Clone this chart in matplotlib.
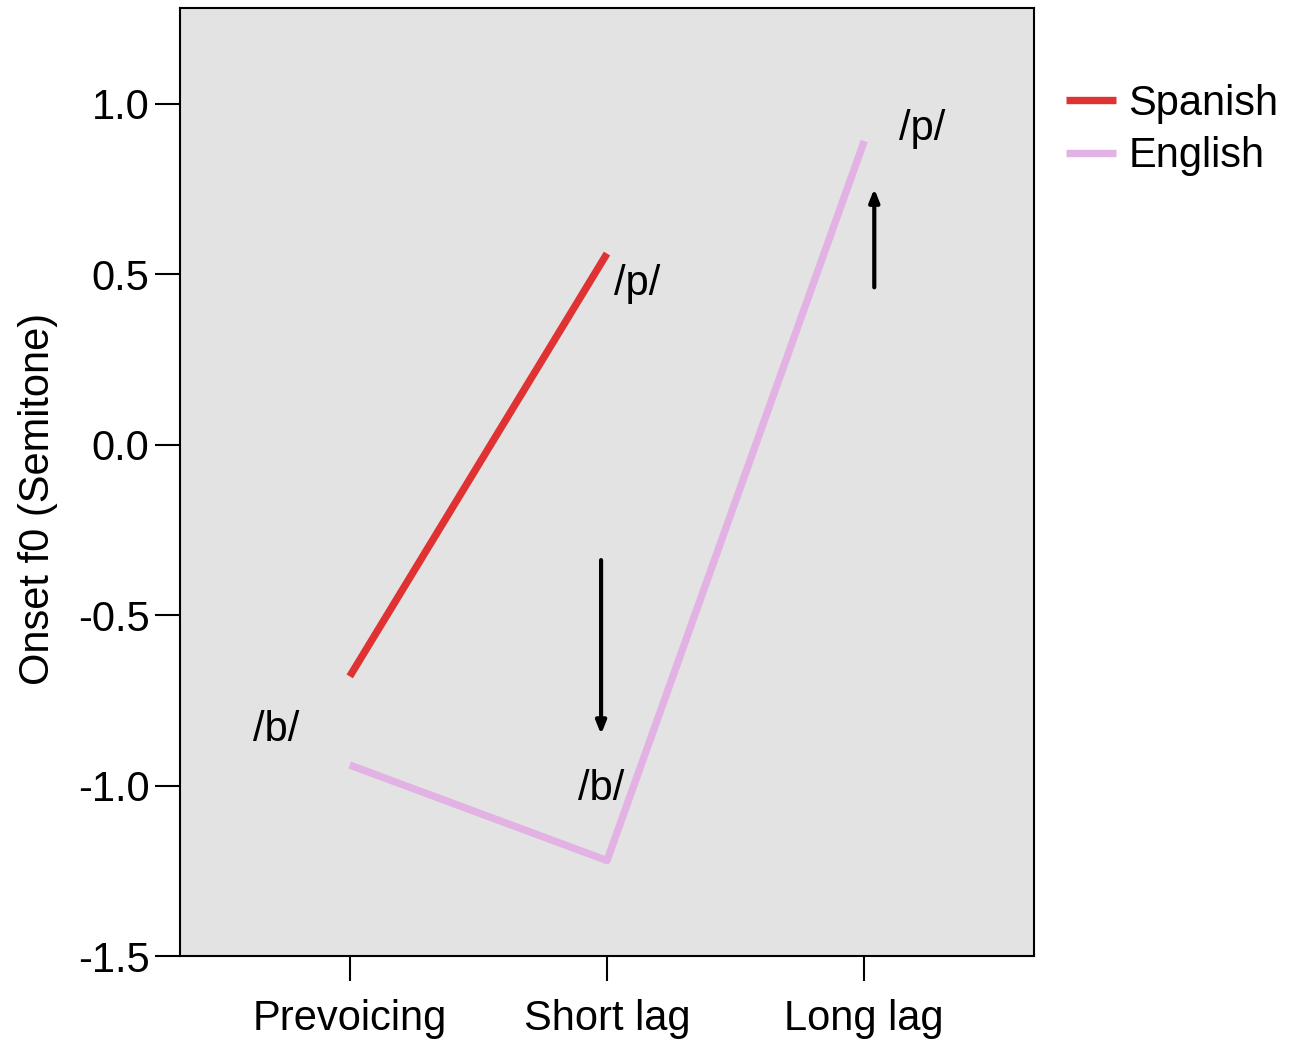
import numpy as np
import matplotlib
matplotlib.use("Agg")
import matplotlib.pyplot as plt

plt.rcParams['font.family'] = ['Liberation Sans', 'DejaVu Sans']

categories = ['Prevoicing', 'Short lag', 'Long lag']
spanish = [-0.68, 0.56, np.nan]
english = [-0.94, -1.22, 0.89]
yticks = [-1.5, -1.0, -0.5, 0.0, 0.5, 1.0]

fig = plt.figure(figsize=(12.89, 10.43), dpi=100)
ax = fig.add_axes([0.1396, 0.0834, 0.6626, 0.9089])
ax.set_facecolor('#e3e3e3')

x = np.arange(len(categories))
ax.plot(x, spanish, color='#e03232', lw=5.3, solid_capstyle='butt', label='Spanish')
ax.plot(x, english, color='#e2b2e4', lw=5.3, solid_capstyle='butt', label='English')

ax.set_xlim(-0.66, 2.66)
ax.set_ylim(-1.5, 1.28)
ax.set_xticks(x)
ax.set_xticklabels(categories)
ax.set_yticks(yticks)
ax.set_yticklabels(['%.1f' % v for v in yticks])
ax.tick_params(labelsize=30, length=18, width=1.5, pad=4)
ax.tick_params(axis='x', pad=13)
for s in ax.spines.values():
    s.set_linewidth(1.5)
ax.set_ylabel('Onset f0 (Semitone)', fontsize=30)
ax.yaxis.set_label_coords(-0.143, 0.482)

# phoneme labels and arrows
fs = 30
ax.text(1.117, 0.472, '/p/', fontsize=fs, ha='center', va='center')
ax.text(-0.284, -0.838, '/b/', fontsize=fs, ha='center', va='center')
ax.text(0.977, -1.01, '/b/', fontsize=fs, ha='center', va='center')
ax.text(2.226, 0.925, '/p/', fontsize=fs, ha='center', va='center')
arr = dict(arrowstyle='-|>,head_length=0.75,head_width=0.3', color='black', lw=3,
           shrinkA=0, shrinkB=0)
ax.annotate('', xy=(0.977, -0.85), xytext=(0.977, -0.339), arrowprops=arr)
ax.annotate('', xy=(2.039, 0.75), xytext=(2.039, 0.461), arrowprops=arr)

fig.legend(loc='upper left', bbox_to_anchor=(1066 / 1289, 1 - 84 / 1043),
           frameon=False, fontsize=30, handlelength=1.2, handletextpad=0.3,
           labelspacing=0.3, borderpad=0, borderaxespad=0)

fig.savefig('out.png', dpi=100)
